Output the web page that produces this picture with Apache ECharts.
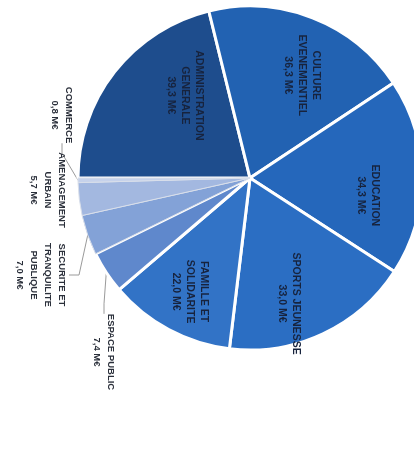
<!DOCTYPE html>
<html>
<head>
<meta charset="utf-8">
<script src="https://cdn.jsdelivr.net/npm/echarts@6/dist/echarts.min.js"></script>
<style>html,body{margin:0;padding:0;background:#fff}#c{width:414px;height:450px}</style>
</head>
<body>
<div id="c"></div>
<script>
const categories = ['ADMINISTRATION\nGENERALE', 'CULTURE\nEVENEMENTIEL', 'EDUCATION', 'SPORTS JEUNESSE', 'FAMILLE ET\nSOLIDARITE', 'ESPACE PUBLIC', 'SECURITE ET\nTRANQUILITE\nPUBLIQUE', 'AMENAGEMENT\nURBAIN', 'COMMERCE'];
const values = [39.3, 36.3, 34.3, 33.0, 22.0, 7.4, 7.0, 5.7, 0.8];
const colors = ['#1e4d8d', '#2262b2', '#2567bb', '#2b6ec3', '#3273c6', '#5f88cc', '#83a2d7', '#a3b8e0', '#c6d2eb'];
const insideIdx = [0, 1, 2, 3, 4];
// screen-space nudges for the inside labels
const insideShift = {0: [30, -8], 1: [8, 10], 2: [-3, 18], 3: [-12, 16], 4: [-3, 7]};
const outsidePos = {5: [104, 352], 6: [41, 275], 7: [48, 190], 8: [62, 115]};
const showLine = {5: true, 6: true, 7: false, 8: true};

const fmt = v => v.toFixed(1).replace('.', ',') + ' M€';
const labelText = i => categories[i] + '\n' + fmt(values[i]);

const center = [250, 178];
const R = 172;

const mainData = values.map((v, i) => {
  const outside = insideIdx.indexOf(i) < 0;
  return {
    name: categories[i],
    value: v,
    itemStyle: { color: colors[i], borderColor: outside && i !== 5 ? '#d9dfea' : '#ffffff', borderWidth: outside && i !== 5 ? 1 : 3 },
    label: outside ? { show: true, formatter: labelText(i) } : { show: false },
    labelLine: { show: outside && showLine[i] }
  };
});
const labelData = values.map((v, i) => ({
  name: categories[i],
  value: v,
  label: { show: insideIdx.indexOf(i) >= 0, formatter: labelText(i) }
}));

const chart = echarts.init(document.getElementById('c'), null, { renderer: 'canvas' });
chart.setOption({
  animation: false,
  backgroundColor: '#ffffff',
  series: [
    {
      type: 'pie',
      center: center,
      radius: [0, R],
      startAngle: 180,
      clockwise: true,
      avoidLabelOverlap: false,
      data: mainData,
      label: {
        position: 'outside',
        rotate: -90,
        fontFamily: 'Liberation Sans',
        fontWeight: 'bold',
        fontSize: 9.5,
        lineHeight: 14,
        color: '#2a2f3a',
        align: 'center'
      },
      labelLine: { lineStyle: { color: '#9a9a9a', width: 1 }, length: 10, length2: 10 },
      labelLayout: function (p) {
        const pos = outsidePos[p.dataIndex];
        if (!pos) return {};
        return { x: pos[0], y: pos[1], align: 'center', verticalAlign: 'middle' };
      }
    },
    {
      type: 'pie',
      center: center,
      radius: [64, R],
      startAngle: 180,
      clockwise: true,
      silent: true,
      data: labelData,
      itemStyle: { color: 'rgba(0,0,0,0)' },
      label: {
        position: 'inside',
        rotate: -90,
        fontFamily: 'Liberation Sans',
        fontWeight: 'bold',
        fontSize: 10.5,
        lineHeight: 14,
        color: '#17233d',
        align: 'center'
      },
      labelLine: { show: false },
      labelLayout: function (p) {
        const s = insideShift[p.dataIndex];
        if (!s) return {};
        // label is rotated -90deg, so its local axes are turned
        return { dx: s[1], dy: -s[0] };
      }
    }
  ]
});
</script>
</body>
</html>
